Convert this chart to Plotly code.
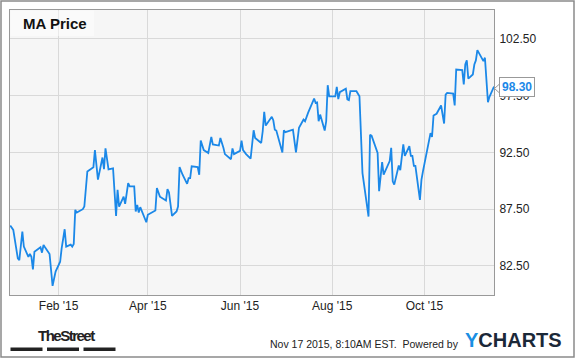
import plotly.graph_objects as go

# ---- data ----
dates = [
    "2014-12-31", "2015-01-02", "2015-01-05", "2015-01-06", "2015-01-08", "2015-01-09",
    "2015-01-12", "2015-01-13", "2015-01-14", "2015-01-15", "2015-01-16", "2015-01-20",
    "2015-01-21", "2015-01-22", "2015-01-23", "2015-01-26", "2015-01-28", "2015-01-30",
    "2015-02-02", "2015-02-03", "2015-02-05", "2015-02-06", "2015-02-09", "2015-02-10",
    "2015-02-11", "2015-02-12", "2015-02-13", "2015-02-17", "2015-02-18", "2015-02-20",
    "2015-02-24", "2015-02-25", "2015-02-27", "2015-03-02", "2015-03-03", "2015-03-04",
    "2015-03-06", "2015-03-09", "2015-03-11", "2015-03-12", "2015-03-13", "2015-03-16",
    "2015-03-17", "2015-03-18", "2015-03-19", "2015-03-20", "2015-03-23", "2015-03-24",
    "2015-03-25", "2015-03-26", "2015-03-27", "2015-03-31", "2015-04-01", "2015-04-06",
    "2015-04-07", "2015-04-09", "2015-04-13", "2015-04-14", "2015-04-15", "2015-04-17",
    "2015-04-20", "2015-04-21", "2015-04-22", "2015-04-24", "2015-04-27", "2015-04-28",
    "2015-04-29", "2015-04-30", "2015-05-04", "2015-05-05", "2015-05-06", "2015-05-08",
    "2015-05-11", "2015-05-13", "2015-05-14", "2015-05-18", "2015-05-19", "2015-05-21",
    "2015-05-22", "2015-05-26", "2015-05-27", "2015-05-28", "2015-06-01", "2015-06-02",
    "2015-06-03", "2015-06-05", "2015-06-08", "2015-06-10", "2015-06-11", "2015-06-15",
    "2015-06-16", "2015-06-17", "2015-06-18", "2015-06-22", "2015-06-23", "2015-06-24",
    "2015-06-25", "2015-06-29", "2015-06-30", "2015-07-01", "2015-07-06", "2015-07-08",
    "2015-07-10", "2015-07-13", "2015-07-14", "2015-07-16", "2015-07-20", "2015-07-21",
    "2015-07-22", "2015-07-23", "2015-07-24", "2015-07-27", "2015-07-28", "2015-07-29",
    "2015-07-30", "2015-07-31", "2015-08-03", "2015-08-04", "2015-08-05", "2015-08-06",
    "2015-08-10", "2015-08-11", "2015-08-12", "2015-08-13", "2015-08-17", "2015-08-19",
    "2015-08-21", "2015-08-25", "2015-08-26", "2015-08-27", "2015-08-31", "2015-09-01",
    "2015-09-03", "2015-09-04", "2015-09-08", "2015-09-09", "2015-09-10", "2015-09-11",
    "2015-09-14", "2015-09-15", "2015-09-16", "2015-09-17", "2015-09-18", "2015-09-21",
    "2015-09-22", "2015-09-23", "2015-09-24", "2015-09-25", "2015-09-28", "2015-09-29",
    "2015-09-30", "2015-10-02", "2015-10-05", "2015-10-06", "2015-10-07", "2015-10-09",
    "2015-10-12", "2015-10-14", "2015-10-15", "2015-10-16", "2015-10-20", "2015-10-21",
    "2015-10-22", "2015-10-26", "2015-10-27", "2015-10-28", "2015-10-29", "2015-10-30",
    "2015-11-02", "2015-11-03", "2015-11-04", "2015-11-05", "2015-11-09", "2015-11-10",
    "2015-11-12", "2015-11-13", "2015-11-16",
]
prices = [
    86.05, 85.67, 83.17, 83.02, 85.52, 84.20,
    83.30, 83.55, 83.30, 82.20, 83.75, 84.14,
    83.67, 84.35, 84.14, 83.55, 80.75, 82.00,
    82.87, 84.05, 85.73, 84.20, 84.37, 84.20,
    84.43, 87.44, 87.20, 87.50, 87.73, 90.82,
    91.20, 92.70, 90.10, 92.05, 91.02, 92.85,
    91.00, 91.10, 86.90, 89.20, 87.73, 88.60,
    87.97, 88.97, 89.80, 89.50, 89.50, 87.30,
    87.88, 87.20, 87.68, 86.35, 87.00, 87.38,
    89.36, 88.60, 88.26, 89.27, 88.97, 86.90,
    87.30, 87.73, 91.20, 90.53, 89.73, 90.23,
    90.23, 91.27, 91.20, 90.53, 93.54, 92.70,
    92.45, 93.87, 93.20, 93.10, 93.77, 92.90,
    92.35, 91.90, 92.85, 92.35, 92.64, 93.54,
    92.70, 92.35, 91.95, 94.45, 93.77, 93.33,
    94.36, 96.07, 94.86, 95.63, 95.33, 94.50,
    94.42, 92.50, 94.45, 94.28, 94.50, 92.50,
    94.66, 95.39, 95.24, 95.98, 97.24, 96.86,
    96.90, 95.24, 95.83, 94.42, 95.24, 98.42,
    97.44, 97.44, 97.44, 98.27, 97.20, 97.80,
    98.10, 97.16, 97.10, 97.89, 97.89, 97.44,
    90.68, 86.85, 94.05, 93.97, 92.45, 89.09,
    91.65, 90.55, 91.73, 92.90, 89.95, 89.66,
    91.35, 90.93, 92.33, 93.20, 92.20, 93.04,
    92.20, 92.20, 91.32, 91.32, 88.32, 90.08,
    90.82, 92.30, 94.20, 93.86, 95.74, 95.90,
    96.63, 95.04, 97.59, 97.74, 97.68, 96.63,
    99.80, 99.74, 98.48, 100.24, 100.60, 99.00,
    99.36, 100.24, 100.60, 101.51, 100.54, 100.84,
    96.92, 97.39, 98.30,
]
x_tick_vals = ["2015-02-01", "2015-04-01", "2015-06-01", "2015-08-01", "2015-10-01"]
x_tick_text = ["Feb '15", "Apr '15", "Jun '15", "Aug '15", "Oct '15"]
y_tick_vals = [82.5, 87.5, 92.5, 97.5, 102.5]
title_text = "MA Price"
last_label = "98.30"
footer_text = "Nov 17 2015, 8:10AM EST.  Powered by"

# ---- layout geometry ----
W, H = 575, 358
ML, MR, MT, MB = 10, 81, 10, 63
PW, PH = W - ML - MR, H - MT - MB

def px(x):
    return (x - ML) / PW

def py(y):
    return (H - MB - y) / PH

FONT = "Liberation Sans, Arial, sans-serif"
LINE_COLOR = "#1b88e8"

fig = go.Figure()
fig.add_trace(go.Scatter(
    x=dates, y=prices, mode="lines",
    line=dict(color=LINE_COLOR, width=1.8),
    hoverinfo="skip", showlegend=False,
))

shapes = [
    # title backdrop
    dict(type="rect", xref="paper", yref="paper", x0=px(10.5), x1=px(94), y0=py(36), y1=py(10.5),
         fillcolor="rgba(255,255,255,0.45)", line=dict(width=0), layer="above"),
    # outer frame
    dict(type="rect", xref="paper", yref="paper", x0=px(1), x1=px(574), y0=py(357), y1=py(1),
         fillcolor="rgba(0,0,0,0)", line=dict(color="#8a8a8a", width=1.5), layer="above"),
    # TheStreet bars
    dict(type="rect", xref="paper", yref="paper", x0=px(10.5), x1=px(42.5), y0=py(351), y1=py(347.5),
         fillcolor="#222", line=dict(width=0)),
    dict(type="rect", xref="paper", yref="paper", x0=px(47), x1=px(79), y0=py(351), y1=py(347.5),
         fillcolor="#222", line=dict(width=0)),
    dict(type="rect", xref="paper", yref="paper", x0=px(83.5), x1=px(115.5), y0=py(351), y1=py(347.5),
         fillcolor="#222", line=dict(width=0)),
    # callout pointer
    dict(type="path", xref="paper", yref="paper",
         path=f"M {px(499.5)},{py(84)} L {px(494.5)},{py(88.5)} L {px(499.5)},{py(93)} Z",
         fillcolor="white", line=dict(color="#999", width=1), layer="above"),
]

annotations = [
    dict(text=f"<b>{title_text}</b>", xref="paper", yref="paper", x=px(20.5), y=py(23.5),
         xanchor="left", yanchor="middle", showarrow=False,
         font=dict(family=FONT, size=15, color="#111")),
    dict(text=f"<b>{last_label}</b>", xref="paper", yref="y", x=px(499), y=prices[-1],
         xanchor="left", yanchor="middle", showarrow=False,
         bgcolor="white", bordercolor="#999", borderwidth=1, borderpad=2,
         font=dict(family=FONT, size=12, color=LINE_COLOR)),
    dict(text="<b><span style='letter-spacing:-1.5px'>TheStreet</span></b>",
         xref="paper", yref="paper", x=px(35.5), y=py(335.5),
         xanchor="left", yanchor="middle", showarrow=False,
         font=dict(family=FONT, size=15, color="#222")),
    dict(text=footer_text, xref="paper", yref="paper", x=px(267.5), y=py(343.5),
         xanchor="left", yanchor="middle", showarrow=False,
         font=dict(family=FONT, size=10.5, color="#222")),
    dict(text="<b><span style='color:#1a8fe3'>Y</span>CHARTS</b>", xref="paper", yref="paper",
         x=px(463), y=py(340), xanchor="left", yanchor="middle", showarrow=False,
         font=dict(family=FONT, size=20, color="#1b2838")),
]

fig.update_layout(
    width=W, height=H,
    margin=dict(l=ML, r=MR, t=MT, b=MB, pad=0),
    paper_bgcolor="white", plot_bgcolor="#f6f6f6",
    font=dict(family=FONT, size=12, color="#222"),
    showlegend=False,
    shapes=shapes, annotations=annotations,
    xaxis=dict(
        type="date", range=["2014-12-30 20:00", "2015-11-16 00:00"],
        tickvals=x_tick_vals, ticktext=x_tick_text,
        showgrid=True, gridcolor="#d9d9d9", gridwidth=1,
        showline=True, linecolor="#999", linewidth=1, mirror=True,
        ticks="", zeroline=False, fixedrange=True,
        tickfont=dict(family=FONT, size=12, color="#222"),
    ),
    yaxis=dict(
        side="right", range=[79.94, 105.04],
        tickvals=y_tick_vals, tickformat=".2f",
        showgrid=True, gridcolor="#d9d9d9", gridwidth=1,
        showline=True, linecolor="#999", linewidth=1, mirror=True,
        ticks="", zeroline=False, fixedrange=True, ticklabelstandoff=2,
        tickfont=dict(family=FONT, size=12, color="#222"),
    ),
)

fig.write_html(
    "out.html",
    config={"displayModeBar": False},
    post_script="document.body.style.margin='0';document.body.style.overflow='hidden';",
)
